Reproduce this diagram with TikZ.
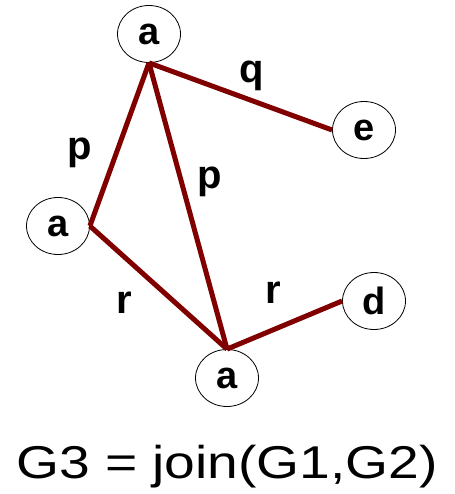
\documentclass[tikz,border=0pt]{standalone}
\usepackage{fontspec}
\setmainfont{Liberation Sans}
\usetikzlibrary{shapes.geometric}
\definecolor{edgered}{RGB}{128,0,0}
\tikzset{
  vtx/.style={draw,ellipse,line width=0.8pt,minimum width=63pt,minimum height=57pt,inner sep=0pt,font=\fontsize{38}{40}\selectfont\bfseries},
  edg/.style={edgered,line width=5pt},
  lbl/.style={anchor=base,inner sep=0pt,font=\fontsize{40}{42}\selectfont\bfseries},
}
\begin{document}
\begin{tikzpicture}[x=1pt,y=-1pt]
 \useasboundingbox (0,0) rectangle (454,494);
 % ---- vertices
 \node[vtx] (atop) at (149,34){a};
 \node[vtx] (aleft) at (58,226){a};
 \node[vtx] (abot) at (227,378){a};
 \node[vtx] (e) at (364,130){e};
 \node[vtx] (d) at (374,301){d};
 % ---- edges
 \draw[edg] (atop.south)--(e.west);
 \draw[edg] (atop.south)--(aleft.east);
 \draw[edg] (atop.south)--(abot.north);
 \draw[edg] (aleft.east)--(abot.north);
 \draw[edg] (abot.north)--(d.west);
 % ---- edge labels
 \node[lbl] (lq) at (252,83){q};
 \node[lbl] (lp1) at (80,160){p};
 \node[lbl] (lp2) at (210,188){p};
 \node[lbl] (lr1) at (124,313){r};
 \node[lbl] (lr2) at (273,303){r};
 % ---- caption
 \node[anchor=base,inner sep=0pt,xscale=1.2,font=\fontsize{46}{48}\selectfont] (cap) at (227,478){G3 = join(G1,G2)};
\end{tikzpicture}
\end{document}
